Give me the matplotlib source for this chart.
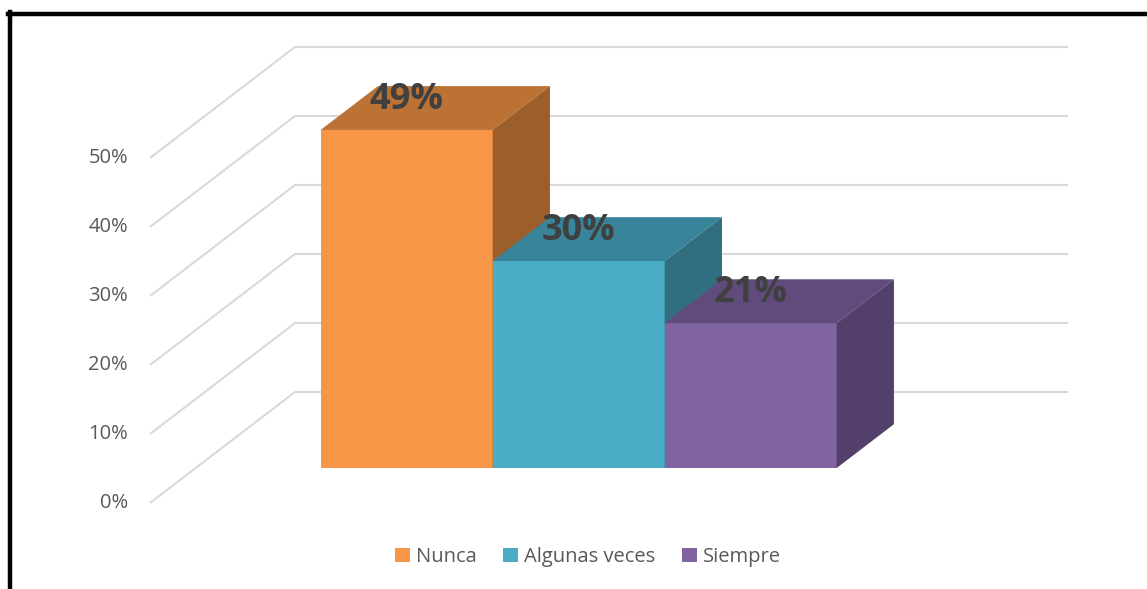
import matplotlib
matplotlib.use('Agg')
import matplotlib.pyplot as plt
from matplotlib.patches import Polygon, Patch
from matplotlib.lines import Line2D

plt.rcParams['font.family'] = ['Open Sans', 'DejaVu Sans']

series = ['Nunca', 'Algunas veces', 'Siempre']
valores = [49, 30, 21]
etiquetas = ['49%', '30%', '21%']
ticks = [0, 10, 20, 30, 40, 50]
tick_labels = ['0%', '10%', '20%', '30%', '40%', '50%']

frente = ['#F79646', '#4BACC6', '#8064A2']
arriba = ['#BD7235', '#38849A', '#614B7D']
lado = ['#9C5E2A', '#316F80', '#52406B']

W, H = 1147, 589
fig = plt.figure(figsize=(W / 100, H / 100), dpi=100)

# ejes: la pared frontal ocupa x 150..1068 px, y 47..503 px
px_por_pct = 6.9
ax = fig.add_axes([150 / W, 1 - 503 / H, (1068 - 150) / W, (503 - 47) / H])
ax.set_xlim(0, 918)
ax.set_ylim(0, 456 / px_por_pct)
ax.axis('off')

# desplazamiento de profundidad (en unidades de datos)
DX = 145
DY = 111 / px_por_pct
d0, d1 = 0.315, 0.71
ancho = 172
x_inicio = 125

# rejilla en perspectiva
for t, lab in zip(ticks, tick_labels):
    ax.plot([0, DX, 918], [t, t + DY, t + DY], color='#D9D9D9', lw=1.5,
            clip_on=False, zorder=1, solid_capstyle='butt')
    ax.text(-22, t, lab, ha='right', va='center', fontsize=14.5, color='#595959')

dd = d1 - d0
for i, v in enumerate(valores):
    xl = x_inicio + i * ancho + d0 * DX
    xr = xl + ancho
    y0 = d0 * DY
    ax.bar(xl, v, width=ancho, bottom=y0, align='edge', color=frente[i],
           zorder=2 + i)
    top = Polygon([(xl, y0 + v), (xr, y0 + v), (xr + dd * DX, y0 + v + dd * DY),
                   (xl + dd * DX, y0 + v + dd * DY)], closed=True,
                  facecolor=arriba[i], edgecolor='none', zorder=2 + i)
    side = Polygon([(xr, y0), (xr, y0 + v), (xr + dd * DX, y0 + v + dd * DY),
                    (xr + dd * DX, y0 + dd * DY)], closed=True,
                   facecolor=lado[i], edgecolor='none', zorder=2 + i)
    ax.add_patch(top)
    ax.add_patch(side)
    ax.text(xl + ancho / 2, y0 + v + 4.3, etiquetas[i], ha='center', va='center',
            fontsize=26, fontweight='bold', color='#404040', zorder=10)

handles = [Patch(facecolor=c, edgecolor='none') for c in frente]
fig.legend(handles, series, loc='center', bbox_to_anchor=(588 / W, 1 - 557 / H),
           ncol=3, frameon=False, fontsize=14.5, handlelength=0.75, handleheight=0.75,
           handletextpad=0.3, columnspacing=1.3, labelcolor='#595959')

# marco negro recortado
fig.add_artist(Line2D([8 / W, 1], [1 - 14 / H, 1 - 14 / H], color='black', lw=3.2,
                      transform=fig.transFigure))
fig.add_artist(Line2D([10 / W, 10 / W], [1 - 12 / H, 0], color='black', lw=3.2,
                      transform=fig.transFigure))

fig.savefig('out.png', dpi=100)
